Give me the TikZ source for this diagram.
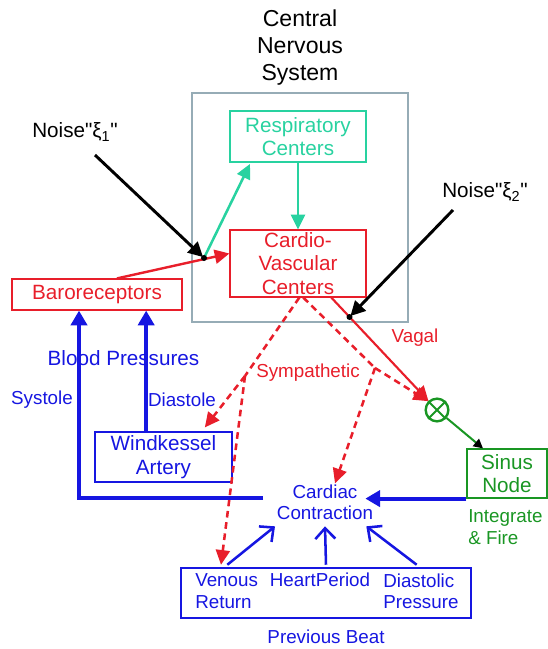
\documentclass[tikz,border=0pt]{standalone}
\usepackage{fontspec}
\setmainfont{Liberation Sans}
\newfontfamily\plainsans{Liberation Sans}
\usetikzlibrary{arrows.meta}
\definecolor{cred}{RGB}{232,30,42}
\definecolor{cblue}{RGB}{22,22,225}
\definecolor{cteal}{RGB}{40,210,160}
\definecolor{cgreen}{RGB}{25,150,35}
\definecolor{cgray}{RGB}{150,172,182}
\begin{document}
\begin{tikzpicture}[x=0.75pt,y=-0.75pt,
  every node/.style={font=\fontsize{15.5}{17.6}\selectfont, inner sep=0pt},
  small/.style={font=\fontsize{14.1}{16}\selectfont},
  box/.style={draw, line width=0.9pt, align=center},
  lbl/.style={align=center},
  bigtip/.style={-{Triangle[length=11pt,width=12pt]}},
  midtip/.style={-{Triangle[length=11pt,width=10.5pt]}},
  barbtip/.style={-{Straight Barb[length=8pt,width=15pt,line width=1.9pt]}},
  dashline/.style={cred, line width=1.9pt, dash pattern=on 5pt off 3.5pt},
  dot/.style={circle, fill=black, minimum size=4.5pt}]
\useasboundingbox (0,0) rectangle (548,649);

% title
\node[lbl, font=\fontsize{17.3}{20.2}\selectfont] (title) at (300,47.5) {Central\\Nervous\\System};

% boxes
\node[box, draw=cgray, minimum width=162pt, minimum height=171.75pt] (cns) at (300,207.5) {};
\node[box, draw=cteal, text=cteal, minimum width=102pt, minimum height=38.25pt] (resp) at (298,136.5) {Respiratory\\Centers};
\node[box, draw=cred, text=cred, minimum width=102pt, minimum height=50.25pt] (cardio) at (298,263.5) {Cardio-\\Vascular\\Centers};
\node[box, draw=cred, text=cred, minimum width=127.5pt, minimum height=23.25pt] (baro) at (97,294.5) {Baroreceptors};
\node[box, draw=cblue, text=cblue, minimum width=102.75pt, minimum height=37.5pt] (wind) at (163.5,457) {Windkessel\\Artery};
\node[box, draw=cgreen, text=cgreen, minimum width=60pt, minimum height=36.75pt] (sinus) at (507,473.5) {Sinus\\Node};
\node[box, draw=cblue, minimum width=217.5pt, minimum height=37.5pt] (prev) at (326,593) {};

% texts
\node[lbl, small, text=cblue] (cc) at (325,502.5) {Cardiac\\Contraction};
\node[align=left, anchor=west, small, text=cblue] (venous) at (195,591) {Venous\\Return};
\node[small, text=cblue] (hp) at (320,580) {HeartPeriod};
\node[align=left, anchor=west, small, text=cblue] (diast) at (383,591) {Diastolic\\Pressure};
\node[small, text=cblue] (pbeat) at (326,637) {Previous Beat};
\node[text=cblue] (bp) at (123.5,358) {Blood Pressures};
\node[small, text=cblue] (sys) at (42,400) {Systole};
\node[small, text=cblue] (dia) at (182,400) {Diastole};
\node[small, text=cred] (symp) at (308,373) {Sympathetic};
\node[small, text=cred] (vagal) at (415,338) {Vagal};
\node[align=left, anchor=west, small, text=cgreen] (fire) at (468,527) {Integrate\\\& Fire};
\node[font=\plainsans\fontsize{15.5}{17.6}\selectfont] (noise1) at (75,132) {Noise"ξ\textsubscript{1}"};
\node[font=\plainsans\fontsize{15.5}{17.6}\selectfont] (noise2) at (485,192) {Noise"ξ\textsubscript{2}"};

% multiplier
\node[circle, draw=cgreen, line width=1.8pt, minimum size=17pt] (mult) at (437,410) {};
\draw[cgreen, line width=1.5pt] (mult.north west) -- (mult.south east) (mult.north east) -- (mult.south west);

% helper coordinates
\coordinate (dot1) at (204,258);
\coordinate (dot2) at (349.5,317);
\coordinate (n1) at (95,155);
\coordinate (n2) at (453,210);
\coordinate (bA) at (245,376);
\coordinate (bB) at (375,368);
\coordinate (ccl) at (263,498);
\coordinate (bxl) at ([xshift=-13.5pt]baro.south);

% teal arrows
\draw[cteal, line width=1.9pt, midtip] (resp.south) -- (cardio.north);
\draw[cteal, line width=1.9pt, midtip] (dot1) -- ([xshift=-36pt,yshift=-1pt]resp.south);

% red baro -> cardio
\draw[cred, line width=1.8pt, midtip] ([xshift=15pt]baro.north) -- ([yshift=7.5pt]cardio.west);

% vagal
\draw[cred, line width=1.6pt, midtip] ([xshift=25pt]cardio.south) -- (mult);

% sympathetic dashed
\draw[dashline] ([xshift=1pt]cardio.south) -- (bA);
\draw[dashline, midtip] (bA) -- ([xshift=31pt,yshift=3pt]wind.north);
\draw[dashline, midtip] (bA) -- ([xshift=-78.75pt,yshift=2pt]prev.north);
\draw[dashline] ([xshift=4pt]cardio.south) -- (bB);
\draw[dashline, midtip] (bB) -- (mult.north west);
\draw[dashline, midtip] (bB) -- ([xshift=7.5pt,yshift=1pt]cc.north);

% noise arrows
\draw[line width=2.2pt, -{Triangle[length=11pt,width=11pt]}, shorten >=1pt] (n1) -- (dot1);
\draw[line width=2.2pt, -{Triangle[length=11pt,width=11pt]}, shorten >=1pt] (n2) -- (dot2);
\node[dot] at (dot1) {};
\node[dot] at (dot2) {};

% green to sinus
\draw[cgreen, line width=1.5pt, -{Triangle[length=7pt,width=7pt,color=black,fill=black]}] (mult) -- ([xshift=-18pt]sinus.north);

% blue thick
\draw[cblue, line width=3pt, bigtip] (sinus.south west) -- ([xshift=-6pt]sinus.south west -| cc.east);
\draw[cblue, line width=3pt, bigtip] (ccl) -- (ccl -| bxl) -- (bxl);
\draw[cblue, line width=3pt, bigtip] ([xshift=-13pt]wind.north) -- ([xshift=-13pt]wind.north |- baro.south);

% thin blue arrows
\draw[cblue, line width=1.9pt, barbtip] ([xshift=-74pt,yshift=2pt]prev.north) -- ([xshift=-37.5pt,yshift=-4.5pt]cc.south);
\draw[cblue, line width=1.9pt, barbtip] ([yshift=2pt]prev.north) -- ([yshift=-4.5pt]cc.south);
\draw[cblue, line width=1.9pt, barbtip] ([xshift=68pt,yshift=2pt]prev.north) -- ([xshift=31pt,yshift=-4.5pt]cc.south);
\end{tikzpicture}
\end{document}
